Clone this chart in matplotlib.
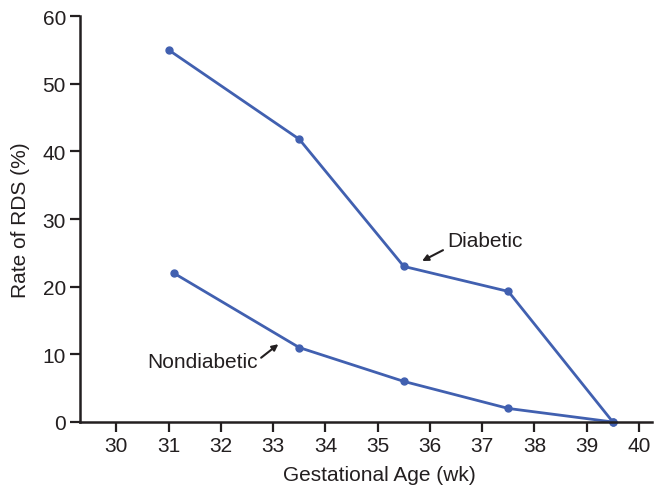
import matplotlib
matplotlib.use("Agg")
import matplotlib.pyplot as plt

diab_x = [31, 33.5, 35.5, 37.5, 39.5]
diab_y = [55, 41.8, 23, 19.3, 0]
nond_x = [31.1, 33.5, 35.5, 37.5, 39.5]
nond_y = [22, 11, 6, 2, 0]
x_ticks = list(range(30, 41))
y_ticks = list(range(0, 61, 10))

plt.rcParams['font.family'] = ['Liberation Sans', 'DejaVu Sans']
text_col = '#231f20'
line_col = '#4160b0'

fig = plt.figure(figsize=(6.54, 4.89), dpi=100)
ax = fig.add_axes([0.122, 0.135, 0.875, 0.83])

ax.plot(diab_x, diab_y, color=line_col, lw=2.0, marker='o', ms=5, clip_on=False)
ax.plot(nond_x, nond_y, color=line_col, lw=2.0, marker='o', ms=5, clip_on=False)

ax.set_xlim(29.3, 40.25)
ax.set_ylim(0, 60)
ax.set_xticks(x_ticks)
ax.set_yticks(y_ticks)
for s in ['top', 'right']:
    ax.spines[s].set_visible(False)
for s in ['left', 'bottom']:
    ax.spines[s].set_linewidth(1.8)
    ax.spines[s].set_color(text_col)
ax.tick_params(length=7, width=1.6, color=text_col, labelsize=15, labelcolor=text_col, pad=3)

ax.set_xlabel('Gestational Age (wk)', fontsize=15, color=text_col)
ax.xaxis.set_label_coords(0.523, -0.105)
ax.set_ylabel('Rate of RDS (%)', fontsize=15, color=text_col, labelpad=9)

arrow = dict(arrowstyle='-|>', color=text_col, lw=1.5, mutation_scale=9, shrinkA=0, shrinkB=0)
ax.annotate('', xy=(35.85, 23.8), xytext=(36.25, 25.4), arrowprops=arrow)
ax.text(36.33, 26.9, 'Diabetic', fontsize=15, color=text_col, va='center', ha='left')
ax.annotate('', xy=(33.1, 11.5), xytext=(32.77, 9.5), arrowprops=arrow)
ax.text(32.7, 9.0, 'Nondiabetic', fontsize=15, color=text_col, va='center', ha='right')

fig.savefig('out.png', dpi=100)
